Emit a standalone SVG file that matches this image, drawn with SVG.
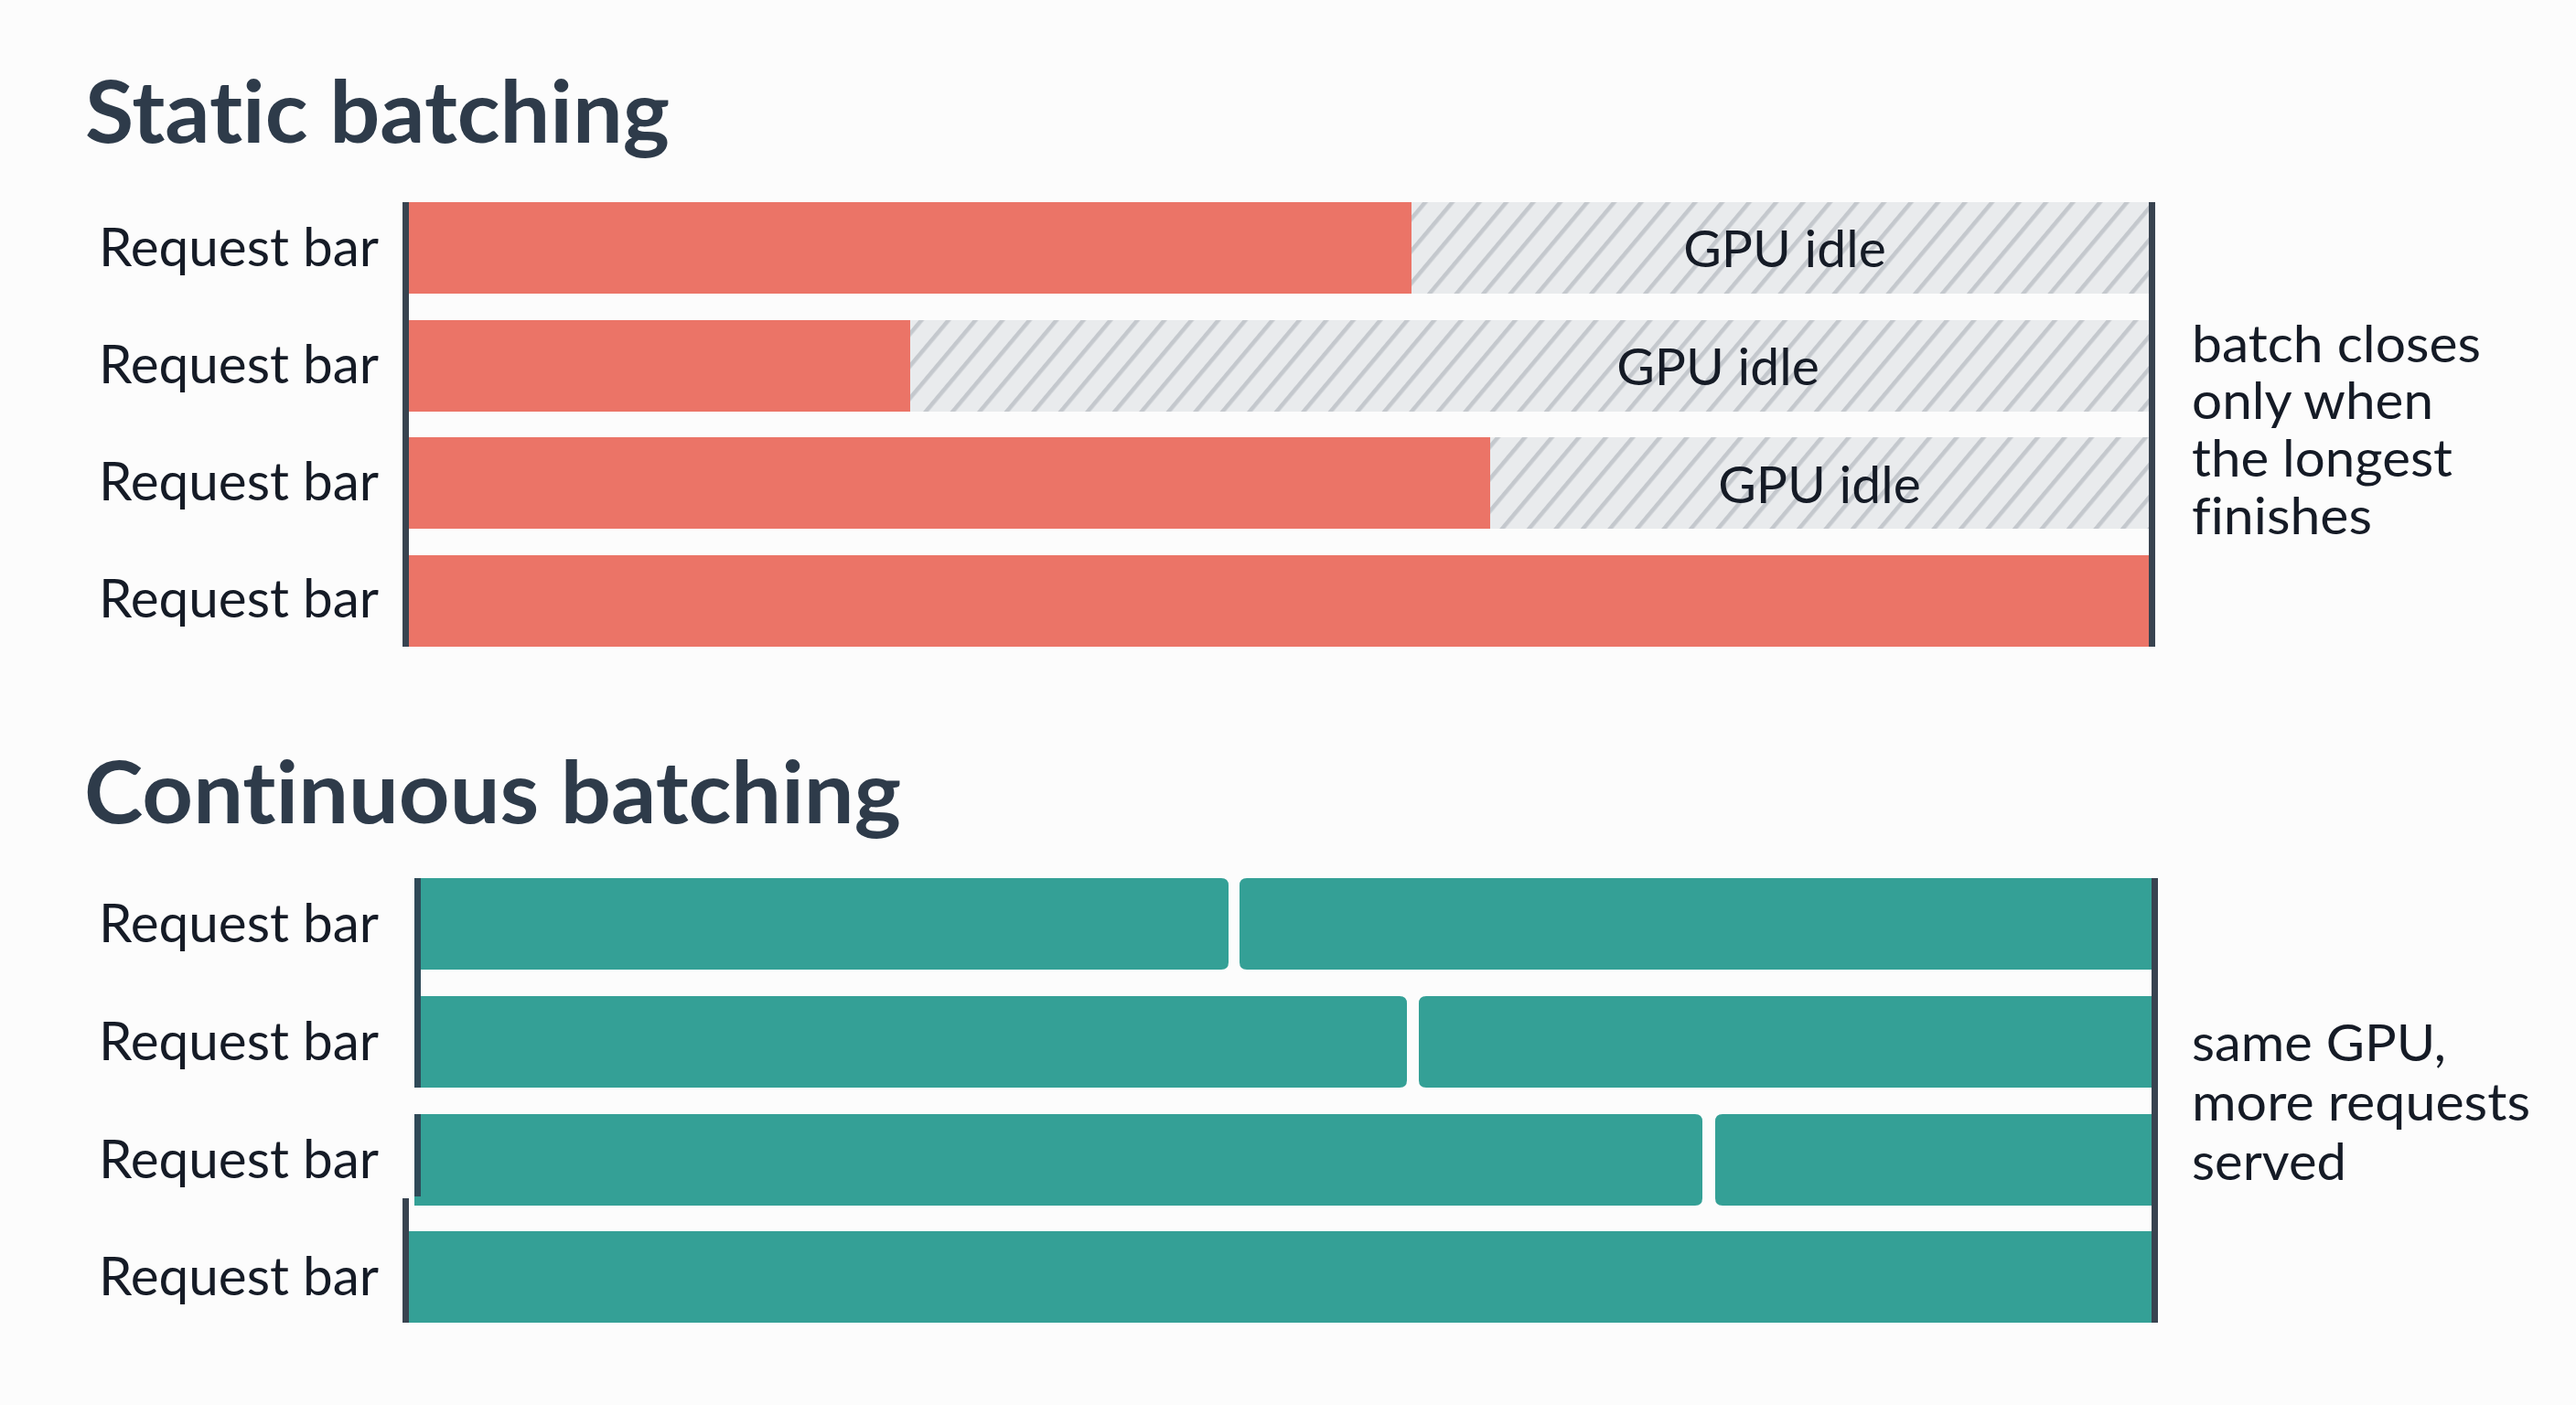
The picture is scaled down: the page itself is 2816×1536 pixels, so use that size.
<svg xmlns="http://www.w3.org/2000/svg" width="2816" height="1536" viewBox="0 0 2816 1536">
<defs>
<style>
text{font-variant-ligatures:none;font-feature-settings:"liga" 0}
.title{font-family:Lato,"Liberation Sans",sans-serif;font-weight:700;font-size:94px;fill:#2e3b4a}
.lbl{font-family:Lato,"Liberation Sans",sans-serif;font-size:58px;fill:#151b26}
.idle{font-family:Lato,"Liberation Sans",sans-serif;font-size:57px;fill:#151b26}
.note{font-family:Lato,"Liberation Sans",sans-serif;font-size:56px;fill:#151b26}
.red{fill:#eb7467}
.teal{fill:#34a096}
.axis{fill:#384350}
.hatch{fill:url(#hatch)}
</style>
<pattern id="hatch" patternUnits="userSpaceOnUse" width="22.6" height="20" patternTransform="rotate(40)">
<rect x="0" y="0" width="22.6" height="20" fill="#e9ebed"/>
<rect x="0" y="0" width="4.5" height="20" fill="#c4c8cd"/>
</pattern>
</defs>
<rect x="0" y="0" width="2816" height="1536" fill="#fcfcfc"/>

<g id="static">
<text class="title" x="93" y="156" textLength="639" lengthAdjust="spacingAndGlyphs">Static batching</text>
<g id="s-row1">
<text class="lbl" x="108" y="291" textLength="306" lengthAdjust="spacingAndGlyphs">Request bar</text>
<rect class="hatch" x="446" y="221" width="1903" height="100"/>
<rect class="red" x="446" y="221" width="1097" height="100"/>
<text class="idle" x="1951" y="292" text-anchor="middle">GPU idle</text>
</g>
<g id="s-row2">
<text class="lbl" x="108" y="419" textLength="306" lengthAdjust="spacingAndGlyphs">Request bar</text>
<rect class="hatch" x="446" y="350" width="1903" height="100"/>
<rect class="red" x="446" y="350" width="549" height="100"/>
<text class="idle" x="1878" y="421" text-anchor="middle">GPU idle</text>
</g>
<g id="s-row3">
<text class="lbl" x="108" y="547" textLength="306" lengthAdjust="spacingAndGlyphs">Request bar</text>
<rect class="hatch" x="446" y="478" width="1903" height="100"/>
<rect class="red" x="446" y="478" width="1183" height="100"/>
<text class="idle" x="1989" y="550" text-anchor="middle">GPU idle</text>
</g>
<g id="s-row4">
<text class="lbl" x="108" y="675" textLength="306" lengthAdjust="spacingAndGlyphs">Request bar</text>
<rect class="red" x="446" y="607" width="1903" height="100"/>
</g>
<g id="s-note">
<text class="note" x="2396" y="396" textLength="316" lengthAdjust="spacingAndGlyphs">batch closes</text>
<text class="note" x="2396" y="458" textLength="264" lengthAdjust="spacingAndGlyphs">only when</text>
<text class="note" x="2396" y="521" textLength="285" lengthAdjust="spacingAndGlyphs">the longest</text>
<text class="note" x="2396" y="584" textLength="197" lengthAdjust="spacingAndGlyphs">finishes</text>
</g>
</g>

<g id="continuous">
<text class="title" x="92" y="900" textLength="893" lengthAdjust="spacingAndGlyphs">Continuous batching</text>
<g id="c-row1">
<text class="lbl" x="108" y="1030" textLength="306" lengthAdjust="spacingAndGlyphs">Request bar</text>
<path class="teal" d="M460,960 H1335 Q1343,960 1343,968 V1052 Q1343,1060 1335,1060 H460 Z"/>
<path class="teal" d="M1363,960 H2352 V1060 H1363 Q1355,1060 1355,1052 V968 Q1355,960 1363,960 Z"/>
</g>
<g id="c-row2">
<text class="lbl" x="108" y="1159" textLength="306" lengthAdjust="spacingAndGlyphs">Request bar</text>
<path class="teal" d="M460,1089 H1530 Q1538,1089 1538,1097 V1181 Q1538,1189 1530,1189 H460 Z"/>
<path class="teal" d="M1559,1089 H2352 V1189 H1559 Q1551,1189 1551,1181 V1097 Q1551,1089 1559,1089 Z"/>
</g>
<g id="c-row3">
<text class="lbl" x="108" y="1288" textLength="306" lengthAdjust="spacingAndGlyphs">Request bar</text>
<path class="teal" d="M453,1218 H1853 Q1861,1218 1861,1226 V1310 Q1861,1318 1853,1318 H453 Z"/>
<path class="teal" d="M1883,1218 H2352 V1318 H1883 Q1875,1318 1875,1310 V1226 Q1875,1218 1883,1218 Z"/>
</g>
<g id="c-row4">
<text class="lbl" x="108" y="1416" textLength="306" lengthAdjust="spacingAndGlyphs">Request bar</text>
<rect class="teal" x="446" y="1346" width="1906" height="100"/>
</g>
<g id="c-note">
<text class="note" x="2396" y="1160" textLength="278" lengthAdjust="spacingAndGlyphs">same GPU,</text>
<text class="note" x="2396" y="1225" textLength="370" lengthAdjust="spacingAndGlyphs">more requests</text>
<text class="note" x="2396" y="1290" textLength="169" lengthAdjust="spacingAndGlyphs">served</text>
</g>
</g>

<g id="connectors">
<rect class="axis" x="440" y="221" width="7" height="486"/>
<rect class="axis" x="2349" y="221" width="7" height="486"/>
<rect x="453" y="960" width="7" height="229" fill="#2f4a58"/>
<rect x="453" y="1218" width="7" height="90" fill="#2f4a58"/>
<rect class="axis" x="440" y="1310" width="7" height="136"/>
<rect class="axis" x="2352" y="960" width="7" height="486"/>
</g>
</svg>
